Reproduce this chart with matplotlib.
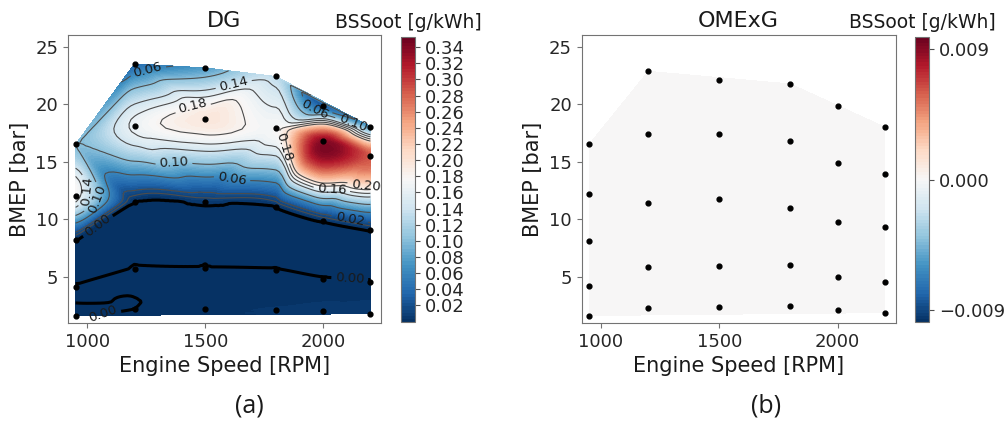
import numpy as np
import matplotlib.pyplot as plt
import matplotlib.tri as mtri

# operating points, DG panel (a)
dg_speed = [950, 950, 950, 950, 950,
            1200, 1200, 1200, 1200, 1200,
            1500, 1500, 1500, 1500, 1500,
            1800, 1800, 1800, 1800, 1800,
            2000, 2000, 2000, 2000, 2000,
            2200, 2200, 2200, 2200, 2200]
dg_bmep = [16.5, 12.05, 8.2, 4.1, 1.65,
           23.5, 18.1, 11.5, 5.7, 2.25,
           23.15, 18.7, 11.5, 5.75, 2.2,
           22.4, 17.9, 11.1, 5.6, 2.15,
           19.85, 16.8, 9.85, 4.85, 2.0,
           18.05, 15.5, 9.05, 4.6, 1.8]
dg_soot = [0.10, 0.175, 0.0005, 0.0003, -0.0002,
           0.035, 0.165, 0.0005, 0.0003, 0.0,
           0.075, 0.195, 0.004, 0.0003, 0.002,
           0.13, 0.175, 0.0005, 0.0003, 0.003,
           0.03, 0.335, 0.0005, 0.0003, 0.004,
           0.07, 0.285, 0.0005, 0.0003, 0.005]

# operating points, OMExG panel (b)
om_speed = [950, 950, 950, 950, 950,
            1200, 1200, 1200, 1200, 1200,
            1500, 1500, 1500, 1500, 1500,
            1800, 1800, 1800, 1800, 1800,
            2000, 2000, 2000, 2000, 2000,
            2200, 2200, 2200, 2200, 2200]
om_bmep = [16.5, 12.2, 8.15, 4.2, 1.65,
           22.85, 17.45, 11.45, 5.9, 2.3,
           22.1, 17.45, 11.75, 5.95, 2.35,
           21.75, 16.8, 11.0, 6.05, 2.45,
           19.8, 14.9, 9.8, 5.0, 2.1,
           18.0, 13.9, 9.35, 4.55, 1.9]
om_soot = [0.0] * 30

dg_ticks = [0.02, 0.04, 0.06, 0.08, 0.10, 0.12, 0.14, 0.16, 0.18,
            0.20, 0.22, 0.24, 0.26, 0.28, 0.30, 0.32, 0.34]
om_ticks = [-0.009, 0.0, 0.009]
line_levels = [0.01, 0.02, 0.06, 0.10, 0.14, 0.16, 0.18, 0.20]


def smooth_field(x, y, z):
    # interpolate on normalised coordinates so the triangles are not squashed
    x = np.asarray(x, float)
    y = np.asarray(y, float)
    z = np.asarray(z, float)
    sx, sy = 1250.0, 22.0
    tri_n = mtri.Triangulation(x / sx, y / sy)
    interp = mtri.CubicTriInterpolator(tri_n, z, kind='geom')
    refiner = mtri.UniformTriRefiner(tri_n)
    tri_r, z_r = refiner.refine_field(z, triinterpolator=interp, subdiv=4)
    tri = mtri.Triangulation(tri_r.x * sx, tri_r.y * sy, tri_r.triangles)
    return tri, z_r


def style_axes(ax):
    for s in ax.spines.values():
        s.set_color('0.45')
    ax.tick_params(colors='0.45', labelcolor='0.15', labelsize=13)
    ax.set_xlim(918, 2245)
    ax.set_ylim(1.0, 26.0)
    ax.set_xticks([1000, 1500, 2000])
    ax.set_yticks([5, 10, 15, 20, 25])
    ax.set_xlabel('Engine Speed [RPM]', fontsize=15, color='0.1')
    ax.set_ylabel('BMEP [bar]', fontsize=15, color='0.1')


fig = plt.figure(figsize=(10.08, 4.21), dpi=100)
ax1 = fig.add_axes([0.0675, 0.2328, 0.3105, 0.684])
cax1 = fig.add_axes([0.3975, 0.234, 0.0144, 0.679])
ax2 = fig.add_axes([0.577, 0.2328, 0.3115, 0.684])
cax2 = fig.add_axes([0.9077, 0.234, 0.0142, 0.679])

# (a) DG
tri1, z1 = smooth_field(dg_speed, dg_bmep, dg_soot)
lo1, hi1 = -0.0012, 0.353
z1 = np.clip(z1, lo1, hi1)
cf1 = ax1.tricontourf(tri1, z1, levels=np.linspace(lo1, hi1, 90), cmap='RdBu_r')
cl = ax1.tricontour(tri1, z1, levels=line_levels, colors='0.3', linewidths=0.8)
ax1.clabel(cl, [0.02, 0.06, 0.10, 0.14, 0.16, 0.18, 0.20],
           fmt='%.2f', fontsize=9.5, colors='0.1', inline=True)
c0 = ax1.tricontour(tri1, z1, levels=[0.0], colors='k', linewidths=2.2)
ax1.clabel(c0, fmt='%.2f', fontsize=9.5, colors='0.1', inline=True)
ax1.scatter(dg_speed, dg_bmep, s=12, c='k', zorder=5)
ax1.set_title('DG', fontsize=16, color='0.1', pad=6)
style_axes(ax1)

cb1 = fig.colorbar(cf1, cax=cax1, ticks=dg_ticks)
cb1.ax.tick_params(labelsize=13, colors='0.3', labelcolor='0.15')
cb1.outline.set_edgecolor('0.45')
cb1.ax.set_title('BSSoot [g/kWh]', fontsize=13.5, color='0.1', pad=6)

# (b) OMExG
tri2, z2 = smooth_field(om_speed, om_bmep, om_soot)
lo2, hi2 = -0.00984, 0.00984
cf2 = ax2.tricontourf(tri2, z2, levels=np.linspace(lo2, hi2, 90), cmap='RdBu_r')
ax2.scatter(om_speed, om_bmep, s=12, c='k', zorder=5)
ax2.set_title('OMExG', fontsize=16, color='0.1', pad=6)
style_axes(ax2)

cb2 = fig.colorbar(cf2, cax=cax2, ticks=om_ticks)
cb2.ax.tick_params(labelsize=13, colors='0.3', labelcolor='0.15')
cb2.outline.set_edgecolor('0.45')
cb2.ax.set_title('BSSoot [g/kWh]', fontsize=13.5, color='0.1', pad=6)

fig.text(249 / 1008, 1 - 406 / 421, '(a)', fontsize=18, family='Open Sans',
         ha='center', va='center', color='0.1')
fig.text(766 / 1008, 1 - 406 / 421, '(b)', fontsize=18, family='Open Sans',
         ha='center', va='center', color='0.1')

fig.savefig('out.png', dpi=100)
